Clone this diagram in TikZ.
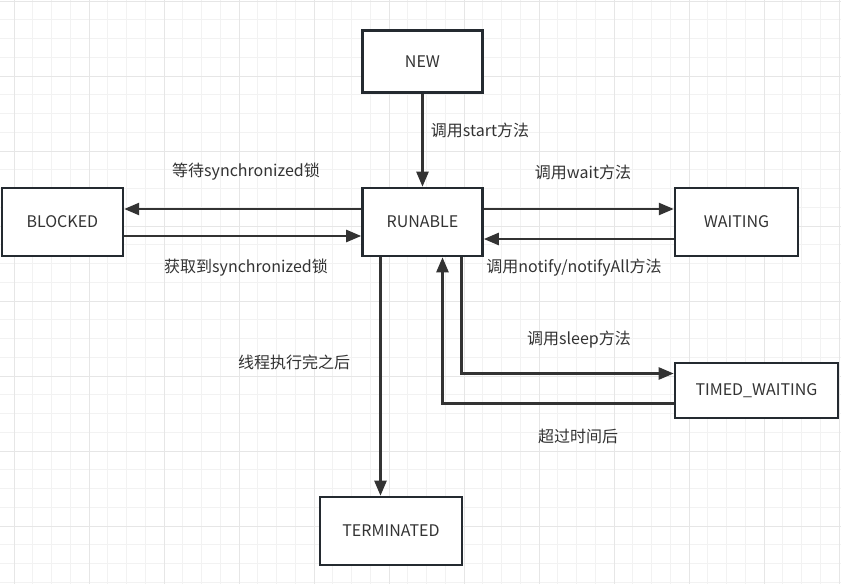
\documentclass[tikz,border=0pt]{standalone}
\usepackage{xcolor}
\usepackage{fontspec}
\setmainfont{Noto Sans CJK SC}
\usepackage{tikz}
\usetikzlibrary{arrows.meta,positioning}

\definecolor{txtgray}{HTML}{333333}
\definecolor{boxline}{HTML}{242A30}
\definecolor{gridminor}{HTML}{F2F2F2}
\definecolor{gridmajor}{HTML}{E6E6E6}

\begin{document}
\begin{tikzpicture}[x=1pt, y=-1pt, >={Triangle[length=15pt,width=12pt]},
  state/.style={draw=boxline,line width=2.6pt,fill=white,align=center,text=txtgray,
    minimum width=120pt,minimum height=68pt,inner sep=0pt,font=\fontsize{16}{19}\selectfont},
  lbl/.style={text=txtgray,inner sep=0pt,font=\fontsize{16}{19}\selectfont},
  trans/.style={->,draw=txtgray,line width=2.4pt}]
\useasboundingbox (0,0) rectangle (841,584);
\fill[white] (0,0) rectangle (841,584);
% grid
\begin{scope}
\clip (0,0) rectangle (841,584);
\foreach \i in {0,...,45} \draw[gridminor,line width=1pt] ({-4.75+18.75*\i},0) -- ({-4.75+18.75*\i},584);
\foreach \i in {0,...,31} \draw[gridminor,line width=1pt] (0,{1+18.75*\i}) -- (841,{1+18.75*\i});
\foreach \i in {0,...,11} \draw[gridmajor,line width=1pt] ({14+75*\i},0) -- ({14+75*\i},584);
\foreach \i in {0,...,7} \draw[gridmajor,line width=1pt] (0,{1+75*\i}) -- (841,{1+75*\i});
\end{scope}
% states
\node[state] (runable) at (422.5,222) {RUNABLE};
\node[state,minimum height=62pt,above=93pt of runable] (new) {NEW};
\node[state,minimum width=121pt,left=237pt of runable] (blocked) {BLOCKED};
\node[state,minimum width=123pt,right=190pt of runable] (waiting) {WAITING};
\node[state,minimum width=163pt,minimum height=55pt] (timed) at (756.5,390.5) {TIMED\_WAITING};
\node[state,minimum width=142pt] (terminated) at (391,531) {TERMINATED};
% transitions
\draw[trans] (new) -- (runable);
\draw[trans] ([yshift=13pt]runable.west) -- ([yshift=13pt]blocked.east);
\draw[trans] ([yshift=-14pt]blocked.east) -- ([yshift=-14pt]runable.west);
\draw[trans] ([yshift=13pt]runable.east) -- ([yshift=13pt]waiting.west);
\draw[trans] ([yshift=-17pt]waiting.west) -- ([yshift=-17pt]runable.east);
\draw[trans] ([xshift=39pt]runable.south) |- ([yshift=17pt]timed.west);
\draw[trans] ([yshift=-13pt]timed.west) -| ([xshift=20pt]runable.south);
\draw[trans] ([xshift=-42pt]runable.south) -- ([xshift=-42pt]runable.south |- terminated.north);
% labels
\node[lbl] (lstart) at (480,130) {调用start方法};
\node[lbl] (lwaitlock) at (246,172) {等待synchronized锁};
\node[lbl] (lgetlock) at (246,268) {获取到synchronized锁};
\node[lbl] (lwait) at (583,172) {调用wait方法};
\node[lbl] (lnotify) at (574,268) {调用notify/notifyAll方法};
\node[lbl] (lsleep) at (579,340) {调用sleep方法};
\node[lbl] (ltimeout) at (578,436) {超过时间后};
\node[lbl] (lend) at (294,362) {线程执行完之后};
\end{tikzpicture}
\end{document}
